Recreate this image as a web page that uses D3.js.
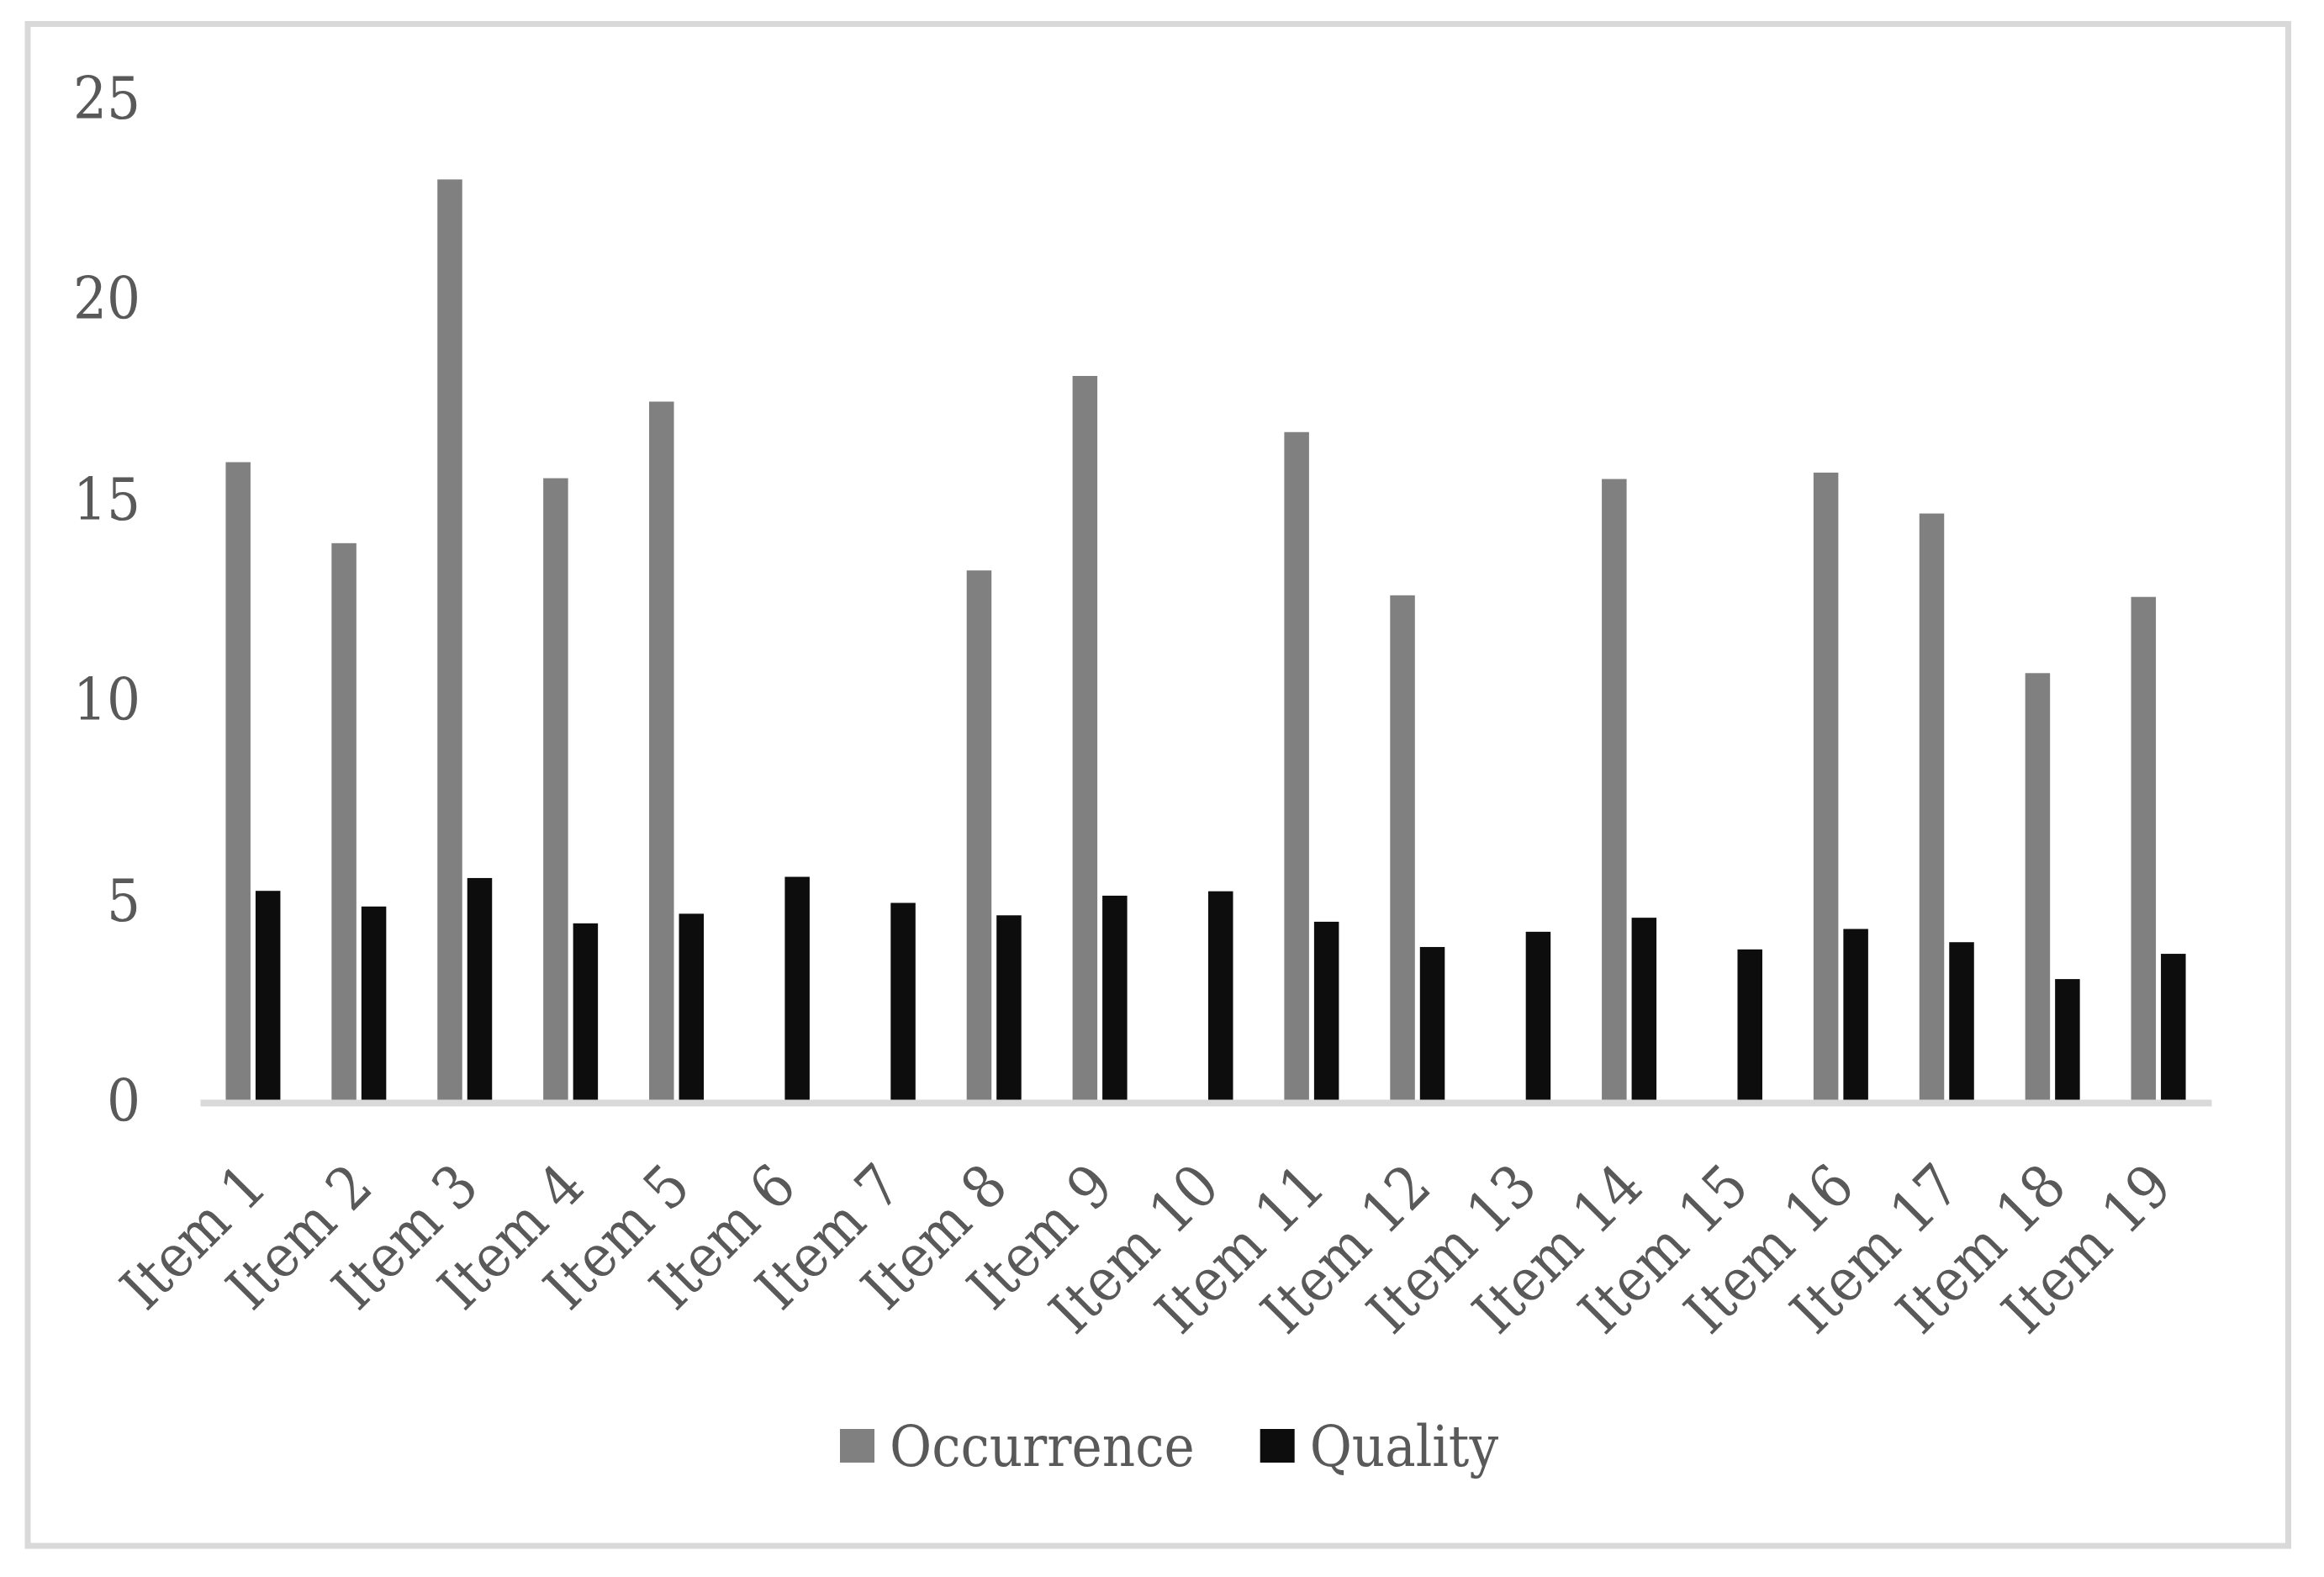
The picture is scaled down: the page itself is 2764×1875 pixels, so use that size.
<!DOCTYPE html>
<html>
<head>
<meta charset="utf-8">
<script src="https://cdn.jsdelivr.net/npm/d3@7"></script>
<style>
  body { margin: 0; background: #fff; }
  svg text {
    font-family: "DejaVu Serif", serif;
    font-stretch: condensed;
    fill: #595959;
  }
</style>
</head>
<body>
<div id="chart"></div>
<script>
/**
 * DATA
 * */
const items = d3.range(1, 20).map(i => "Item " + i);
const seriesNames = ["Occurrence", "Quality"];
const occurrence = [15.95, 13.93, 23.0, 15.55, 17.46, 0, 0, 13.25, 18.1, 0, 16.7, 12.63, 0, 15.53, 0, 15.69, 14.67, 10.69, 12.59];
const quality = [5.26, 4.87, 5.58, 4.45, 4.69, 5.61, 4.96, 4.65, 5.14, 5.25, 4.49, 3.86, 4.24, 4.59, 3.8, 4.31, 3.98, 3.06, 3.69];
const yTicks = [0, 5, 10, 15, 20, 25];

/**
 * CONSTANTS
 * */
const width = 2764,
  height = 1875,
  plot = { left: 238, right: 2630, top: 118, bottom: 1310 },
  colors = { Occurrence: "#808080", Quality: "#0d0d0d" },
  fontSize = 70,
  legendFontSize = 68;

const rows = items.map((d, i) => ({ item: d, Occurrence: occurrence[i], Quality: quality[i] }));

const svg = d3
  .select("#chart")
  .append("svg")
  .attr("width", width)
  .attr("height", height);

// outer frame
svg
  .append("rect")
  .attr("x", 33)
  .attr("y", 28.5)
  .attr("width", 2721.5 - 33)
  .attr("height", 1838 - 28.5)
  .attr("fill", "#fff")
  .attr("stroke", "#d9d9d9")
  .attr("stroke-width", 7);

// SCALES
const xScale = d3.scaleBand().domain(items).range([plot.left, plot.right]);

const xSub = d3
  .scaleBand()
  .domain(seriesNames)
  .range([-32.5, 32.5])
  .paddingInner(0.169);

const yScale = d3.scaleLinear().domain([0, 25]).range([plot.bottom, plot.top]);

// BARS
const groups = svg
  .append("g")
  .selectAll("g")
  .data(rows)
  .join("g")
  .attr("transform", d => `translate(${xScale(d.item) + xScale.bandwidth() / 2},0)`);

groups
  .selectAll("rect")
  .data(d => seriesNames.map(s => ({ key: s, value: d[s] })))
  .join("rect")
  .attr("x", d => xSub(d.key))
  .attr("width", xSub.bandwidth())
  .attr("y", d => yScale(d.value))
  .attr("height", d => yScale(0) - yScale(d.value))
  .attr("fill", d => colors[d.key]);

// Y AXIS (labels only)
svg
  .append("g")
  .attr("transform", `translate(${plot.left},0)`)
  .call(d3.axisLeft(yScale).tickValues(yTicks).tickSize(0).tickPadding(71))
  .call(g => g.select(".domain").remove())
  .selectAll("text")
  .attr("font-size", fontSize)
  .attr("font-family", null);

// X AXIS
const xAxis = svg
  .append("g")
  .attr("transform", `translate(0,${plot.bottom + 1})`)
  .call(d3.axisBottom(xScale).tickSize(0).tickSizeOuter(0));

xAxis.select(".domain").attr("stroke", "#d9d9d9").attr("stroke-width", 8);

xAxis
  .selectAll("text")
  .attr("font-size", fontSize)
  .attr("font-family", null)
  .attr("text-anchor", "end")
  .attr("x", 0)
  .attr("y", 0)
  .attr("dy", "0.35em")
  .attr("transform", "translate(2,86) rotate(-45)");

// LEGEND
const legend = svg.append("g").attr("transform", "translate(999,1719)");
let lx = 0;
seriesNames.forEach(s => {
  legend
    .append("rect")
    .attr("x", lx)
    .attr("y", -20)
    .attr("width", 41)
    .attr("height", 40)
    .attr("fill", colors[s]);
  const t = legend
    .append("text")
    .attr("x", lx + 59)
    .attr("y", 24)
    .attr("font-size", legendFontSize)
    .text(s);
  lx += 59 + t.node().getComputedTextLength() + 78;
});
</script>
</body>
</html>
